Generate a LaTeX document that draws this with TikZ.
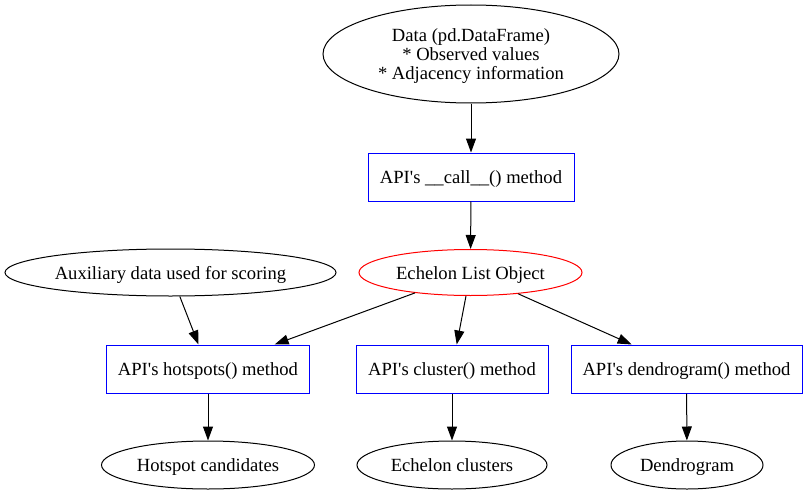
\documentclass[tikz,border=0pt]{standalone}
\usepackage{fontspec}
\setmainfont{Liberation Serif}
\usetikzlibrary{shapes.geometric,arrows.meta}
\newcommand\dn[2][-3pt]{\raisebox{#1}[\height][\depth]{#2}}
\begin{document}
\begin{tikzpicture}[x=1pt,y=-1pt,
  every node/.style={font=\fontsize{18.6}{19}\selectfont, inner sep=0pt, line width=1pt},
  one/.style={text height=13pt, text depth=0pt},
  ell/.style={draw=black, ellipse},
  redell/.style={draw=red, ellipse},
  box/.style={draw=blue, rectangle},
  arr/.style={draw=black, line width=1pt, -{Triangle[length=14pt,width=10pt]}}
]
\useasboundingbox (0,0) rectangle (808,495);
\node[ell, minimum width=296pt, minimum height=98pt] (data) at (471,54)
  {\dn{\begin{tabular}{@{}c@{}}Data (pd.DataFrame)\\{*} Observed values\\{*} Adjacency information\end{tabular}}};
\node[box, one, minimum width=206pt, minimum height=48pt] (call) at (471,177) {API\textquotesingle s \_\_call\_\_() method};
\node[redell, one, minimum width=223pt, minimum height=46pt] (ech) at (470.5,272.5) {Echelon List Object};
\node[ell, one, minimum width=331pt, minimum height=47pt] (aux) at (170.5,272.5) {Auxiliary data used for scoring};
\node[box, one, minimum width=203pt, minimum height=48pt] (hot) at (208,369) {API\textquotesingle s hotspots() method};
\node[box, one, minimum width=192pt, minimum height=48pt] (clu) at (452,369) {API\textquotesingle s cluster() method};
\node[box, one, minimum width=231pt, minimum height=48pt] (den) at (686.5,369) {API\textquotesingle s dendrogram() method};
\node[ell, one, minimum width=213pt, minimum height=48pt] (hc) at (208,465) {Hotspot candidates};
\node[ell, one, minimum width=190pt, minimum height=48pt] (ec) at (452,465) {Echelon clusters};
\node[ell, one, minimum width=152pt, minimum height=48pt] (dg) at (687,465) {Dendrogram};
\draw[arr] (data) -- (call);
\draw[arr] (call) -- (ech);
\draw[arr] (aux) -- (hot);
\draw[arr] (ech) -- (hot);
\draw[arr] (ech) -- (clu);
\draw[arr] (ech) -- (den);
\draw[arr] (hot) -- (hc);
\draw[arr] (clu) -- (ec);
\draw[arr] (den) -- (dg);
\end{tikzpicture}
\end{document}
